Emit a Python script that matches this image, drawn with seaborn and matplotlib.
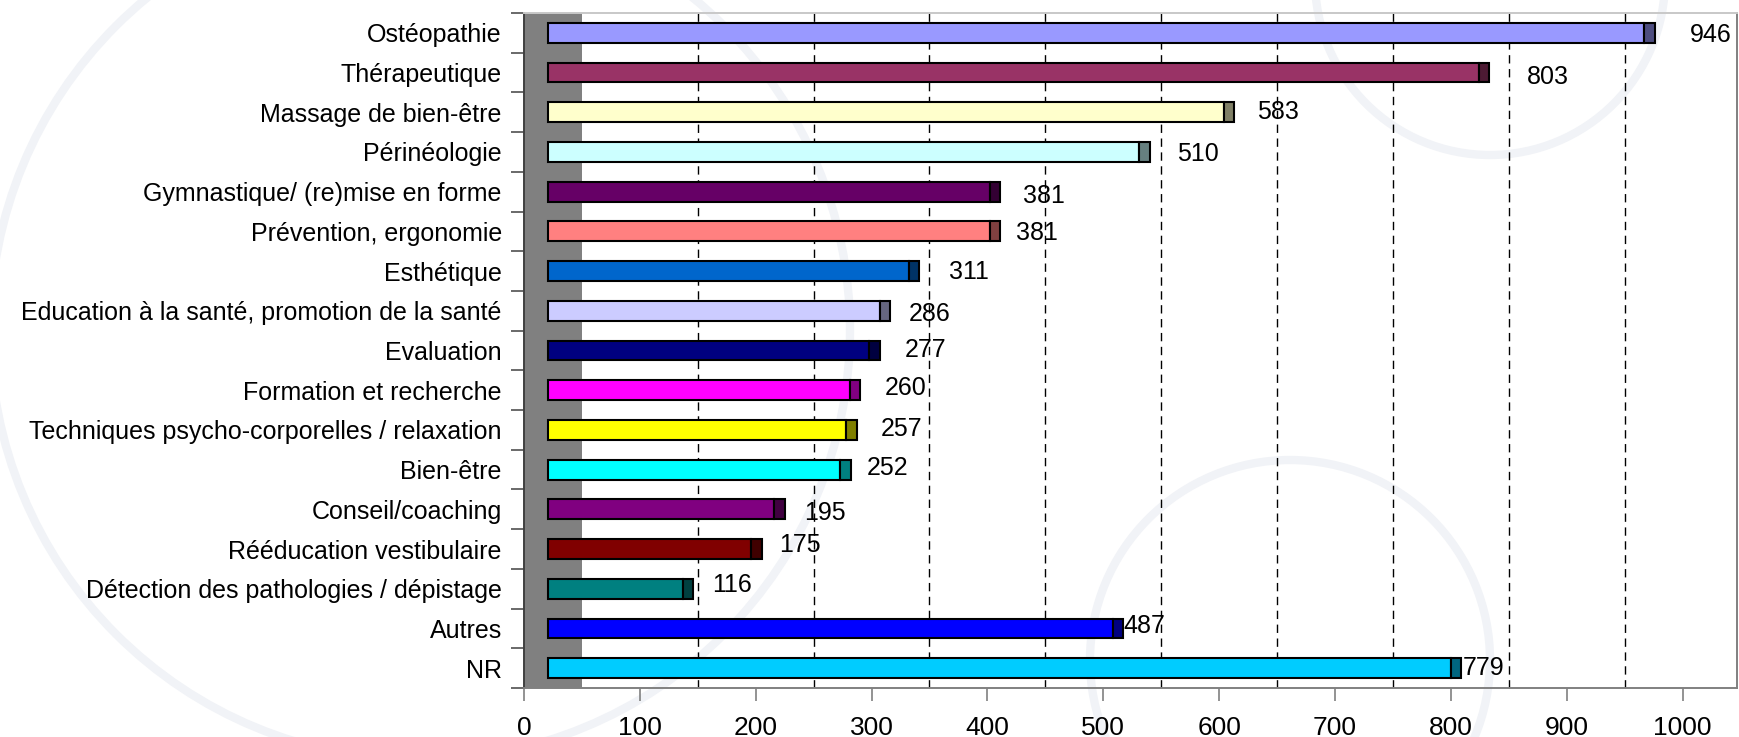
"""
Répartition des activités - barres horizontales façon Excel 3D.
"""

import numpy as np
import pandas as pd
import matplotlib
matplotlib.use("Agg")
import matplotlib.pyplot as plt
import matplotlib.colors as mcolors
from matplotlib.patches import Circle, Rectangle
import seaborn as sns

# --- data -------------------------------------------------------------
categories = [
    "Ostéopathie",
    "Thérapeutique",
    "Massage de bien-être",
    "Périnéologie",
    "Gymnastique/ (re)mise en forme",
    "Prévention, ergonomie",
    "Esthétique",
    "Education à la santé, promotion de la santé",
    "Evaluation",
    "Formation et recherche",
    "Techniques psycho-corporelles / relaxation",
    "Bien-être",
    "Conseil/coaching",
    "Rééducation vestibulaire",
    "Détection des pathologies / dépistage",
    "Autres",
    "NR",
]
values = [946, 803, 583, 510, 381, 381, 311, 286, 277, 260, 257, 252,
          195, 175, 116, 487, 779]
bar_colors = [
    "#9999FF", "#993366", "#FFFFCC", "#CCFFFF", "#660066", "#FF8080",
    "#0066CC", "#CCCCFF", "#000080", "#FF00FF", "#FFFF00", "#00FFFF",
    "#800080", "#800000", "#008080", "#0000FF", "#00CCFF",
]
x_ticks = [0, 100, 200, 300, 400, 500, 600, 700, 800, 900, 1000]

# label nudges (x in data units after bar end, y in row units)
label_dx = [30, 33, 20, 24, 20, 14, 26, 16, 22, 21, 21, 14, 17, 15, 16, 0, 1]
label_dy = [0.05, 0.12, 0, 0.05, 0.12, 0.05, 0.02, 0.08, -0.02, -0.05,
            -0.02, -0.05, 0.08, -0.1, -0.1, -0.07, 0]

WALL = 50        # depth of the grey side wall
BAR_START = 21   # bars start a bit inside the wall (3D offset)
CAP = 9          # width of the darker bar end

df = pd.DataFrame({"Activite": categories, "Effectif": values})

sns.set_theme(style="white")
plt.rcParams["font.family"] = ["Liberation Sans", "DejaVu Sans"]
plt.rcParams["text.color"] = "black"
plt.rcParams["xtick.labelcolor"] = "black"
plt.rcParams["ytick.labelcolor"] = "black"

W, H = 1739, 737
fig = plt.figure(figsize=(W / 100, H / 100), dpi=100)
fig.patch.set_facecolor("white")

# faint watermark circles in the background
for cx, cy, r in [(1490, -20, 175), (1290, 660, 200), (420, 330, 430)]:
    fig.add_artist(Circle((cx / 100, (H - cy) / 100), r / 100,
                          transform=fig.dpi_scale_trans, fill=False,
                          lw=6, ec="#f1f3f7", zorder=0))

ax = fig.add_axes([524 / W, (H - 688) / H, (1737 - 524) / W, 675 / H])
ax.patch.set_alpha(0)

ax.axvspan(0, WALL, color="#808080", zorder=0.5, lw=0)

sns.barplot(data=df, x="Effectif", y="Activite", hue="Activite",
            palette=bar_colors, orient="h", width=0.5, saturation=1,
            left=BAR_START, edgecolor="black", linewidth=1.5,
            errorbar=None, legend=False, ax=ax, zorder=3)

# darker ends + value labels
bars = sorted(ax.patches, key=lambda p: p.get_y())
bars = [p for p in bars if isinstance(p, Rectangle) and p.get_height() < 1]
for i, p in enumerate(bars):
    face = np.array(mcolors.to_rgb(p.get_facecolor())) * 0.5
    xe = p.get_x() + p.get_width()
    ax.add_patch(Rectangle((xe, p.get_y()), CAP, p.get_height(),
                           facecolor=face, edgecolor="black", lw=1.5,
                           zorder=3))
    yc = p.get_y() + p.get_height() / 2
    ax.text(xe + CAP + label_dx[i], yc + label_dy[i], str(values[i]),
            ha="left", va="center", fontsize=18, color="black", zorder=4)

ax.set_xlim(0, 1047)
ax.set_ylim(len(categories) - 0.5, -0.5)

ax.set_xticks(x_ticks)
ax.set_xticks(np.arange(150, 1000, 100), minor=True)
ax.grid(which="minor", axis="x", color="black", lw=1,
        linestyle=(0, (6, 4)), zorder=1)
ax.set_axisbelow(True)
ax.tick_params(axis="x", which="major", direction="out", length=9,
               width=1.2, color="#808080", labelsize=19, pad=11,
               bottom=True)
ax.tick_params(axis="x", which="minor", length=0)

ax.set_yticks(range(len(categories)))
ax.set_yticks(np.arange(-0.5, len(categories), 1), minor=True)
ax.tick_params(axis="y", which="major", length=0, labelsize=18, pad=16)
ax.tick_params(axis="y", which="minor", direction="out", length=9.5,
               width=1.2, color="#505050", left=True)

ax.set_xlabel("")
ax.set_ylabel("")

for side, col in [("left", "#404040"), ("bottom", "#808080"),
                  ("right", "#808080"), ("top", "#c8c8c8")]:
    ax.spines[side].set_visible(True)
    ax.spines[side].set_color(col)
    ax.spines[side].set_linewidth(1.4)

fig.savefig("out.png", dpi=100)
